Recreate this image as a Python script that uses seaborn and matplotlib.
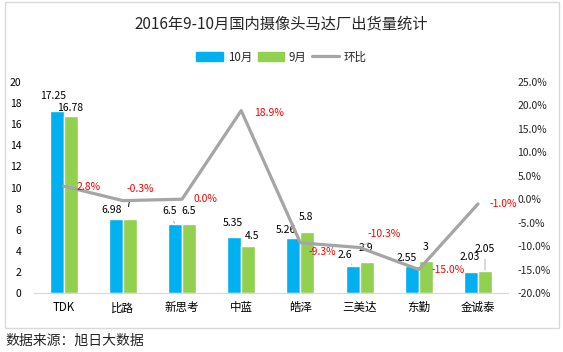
import numpy as np
import pandas as pd
import matplotlib
matplotlib.use("Agg")
import matplotlib.pyplot as plt
from matplotlib.patches import Rectangle
from matplotlib.ticker import FuncFormatter
import seaborn as sns

# data
companies = ["TDK", "比路", "新思考", "中蓝", "皓泽", "三美达", "东勤", "金诚泰"]
oct_vals = [17.25, 6.98, 6.5, 5.35, 5.26, 2.6, 2.55, 2.03]
sep_vals = [16.78, 7, 6.5, 4.5, 5.8, 2.9, 3, 2.05]
mom_pct = [2.8, -0.3, 0.0, 18.9, -9.3, -10.3, -15.0, -1.0]
months = ["10月", "9月"]

# label nudges in pixels (x, y), copied from where Excel put them
oct_offsets = [(-4, 15), (-4, 9), (-5, 13), (-1, 14), (-7, 8), (-8, 11), (-5, 8), (-1, 15)]
sep_offsets = [(0, 8), (-1, 15), (0, 13), (4, 10), (-1, 15), (-1, 14), (0, 14), (0, 22)]
pct_offsets = [(13, -1), (4, 12), (12, 0), (13, -2), (8, -9), (8, 14), (13, 0), (12, 0)]
# which moved labels got a leader line in the original
oct_leader = [False, False, True, False, False, True, False, False]
sep_leader = [False, False, False, False, False, False, False, True]
pct_leader = [False, False, False, False, False, True, False, False]

BLUE = "#00B0F0"
GREEN = "#92D050"
GRAY = "#A5A5A5"

sns.set_style("white")
plt.rcParams["font.family"] = ["Noto Sans CJK SC", "DejaVu Sans"]

df = pd.DataFrame({
    "company": companies * 2,
    "month": [months[0]] * len(companies) + [months[1]] * len(companies),
    "value": oct_vals + sep_vals,
})

fig = plt.figure(figsize=(5.63, 3.52), dpi=100)
ax = fig.add_axes([34 / 563, 1 - 293 / 352, 473.6 / 563, 211 / 352])

sns.barplot(data=df, x="company", y="value", hue="month", order=companies,
            hue_order=months, palette=[BLUE, GREEN], width=0.474, gap=0,
            saturation=1, ax=ax, legend=False)
ax.set_xlim(-0.5, len(companies) - 0.5)
ax.set_ylim(0, 20)
ax.set_yticks(range(0, 21, 2))
ax.set_xlabel("")
ax.set_ylabel("")
ax.tick_params(axis="both", length=0, colors="black")
ax.tick_params(axis="y", labelsize=7.5, pad=9)
ax.tick_params(axis="x", labelsize=8.3, pad=6)
for s in ["top", "left", "right"]:
    ax.spines[s].set_visible(False)
ax.spines["bottom"].set_color("#D9D9D9")

leader = dict(arrowstyle="-", color="#A6A6A6", lw=0.6, shrinkA=1, shrinkB=1)

# value labels on the bars
for container, vals, offs, lead in zip(ax.containers, [oct_vals, sep_vals],
                                       [oct_offsets, sep_offsets], [oct_leader, sep_leader]):
    for bar, v, (dx, dy), ld in zip(container, vals, offs, lead):
        ax.annotate(f"{v:g}", (bar.get_x() + bar.get_width() / 2, bar.get_height()),
                    xytext=(dx, dy), textcoords="offset pixels",
                    ha="center", va="center", fontsize=7.5, color="black",
                    arrowprops=leader if ld else None)

ax2 = ax.twinx()
sns.lineplot(x=np.arange(len(companies)), y=mom_pct, color=GRAY, linewidth=2.3,
             ax=ax2, legend=False)
ax2.set_ylim(-20, 25)
ax2.set_yticks(range(-20, 26, 5))
ax2.yaxis.set_major_formatter(FuncFormatter(lambda v, p: f"{v:.1f}%"))
ax2.tick_params(axis="y", length=0, labelsize=7.5, pad=7)
for s in ax2.spines.values():
    s.set_visible(False)

for i, (p, (dx, dy), ld) in enumerate(zip(mom_pct, pct_offsets, pct_leader)):
    ax2.annotate(f"{p:.1f}%", (i, p), xytext=(dx, dy), textcoords="offset pixels",
                 ha="left", va="center", fontsize=7.5, color="#FF0000",
                 arrowprops=dict(leader, shrinkB=9) if ld else None)

# legend
handles = [Rectangle((0, 0), 1, 1, color=BLUE), Rectangle((0, 0), 1, 1, color=GREEN),
           plt.Line2D([0], [0], color=GRAY, lw=2.3)]
fig.legend(handles, ["10月", "9月", "环比"], loc="center", bbox_to_anchor=(0.5, 1 - 57 / 352),
           ncol=3, frameon=False, fontsize=8.3, handlelength=2.3, handleheight=0.7,
           handletextpad=0.4, columnspacing=0.5)

fig.text(0.5, 1 - 24 / 352, "2016年9-10月国内摄像头马达厂出货量统计",
         ha="center", va="center", fontsize=11)
fig.text(5 / 563, 1 - 341 / 352, "数据来源：旭日大数据", ha="left", va="center", fontsize=10)

fig.patches.append(Rectangle((5 / 563, 1 - 328 / 352), 554 / 563, 326 / 352,
                             transform=fig.transFigure, fill=False,
                             edgecolor="#D9D9D9", linewidth=1))

fig.savefig("out.png", dpi=100)
